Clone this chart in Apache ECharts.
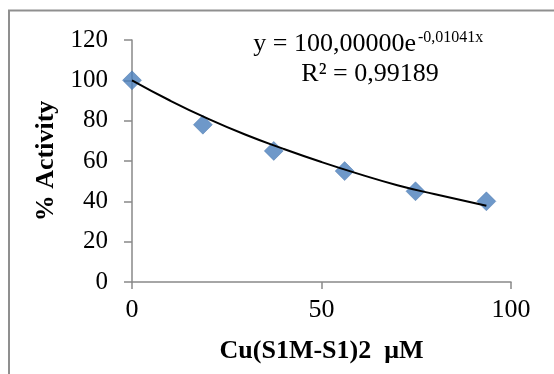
<!DOCTYPE html>
<html>
<head>
<meta charset="utf-8">
<script src="https://cdn.jsdelivr.net/npm/echarts@6/dist/echarts.min.js"></script>
<style>
  html, body { margin: 0; padding: 0; background: #fff; }
  #chart { width: 554px; height: 374px; }
</style>
</head>
<body>
<div id="chart"></div>
<script>
// measured points, Cu(S1M-S1)2 concentration (µM) vs % activity
const concentration = [0, 18.7, 37.4, 56.1, 74.8, 93.5];
const activity = [100, 78, 65, 55, 45, 40];

// exponential trend line as drawn in the picture
const trendX = [0, 10, 20, 30, 40, 50, 60, 70, 80, 93.5];
const trendY = [100, 90, 81, 73, 66, 59.5, 53.5, 48, 43.5, 37.8];

const xTicks = [0, 50, 100];
const yTicks = [0, 20, 40, 60, 80, 100, 120];

const serif = 'Liberation Serif';
const axisGray = '#898989';

const chart = echarts.init(document.getElementById('chart'), null, { renderer: 'canvas' });

chart.setOption({
    backgroundColor: '#fff',
    animation: false,
    grid: { left: 132, right: 43, top: 40, bottom: 92 },
    xAxis: {
        type: 'value',
        min: xTicks[0],
        max: xTicks[xTicks.length - 1],
        interval: xTicks[1] - xTicks[0],
        name: 'Cu(S1M-S1)2  μM',
        nameLocation: 'middle',
        nameGap: 56,
        nameTextStyle: { fontFamily: serif, fontSize: 26, fontWeight: 'bold', color: '#000' },
        axisLine: { lineStyle: { color: axisGray, width: 1.5 } },
        axisTick: { inside: false, length: 7, lineStyle: { color: axisGray, width: 1.5 } },
        axisLabel: { fontFamily: serif, fontSize: 26, color: '#000', margin: 15 },
        splitLine: { show: false }
    },
    yAxis: {
        type: 'value',
        min: yTicks[0],
        max: yTicks[yTicks.length - 1],
        interval: yTicks[1] - yTicks[0],
        name: '% Activity',
        nameLocation: 'middle',
        nameRotate: 90,
        nameGap: 62,
        nameTextStyle: { fontFamily: serif, fontSize: 26, fontWeight: 'bold', color: '#000' },
        axisLine: { show: true, lineStyle: { color: axisGray, width: 1.5 } },
        axisTick: { show: true, inside: false, length: 8, lineStyle: { color: axisGray, width: 1.5 } },
        axisLabel: { fontFamily: serif, fontSize: 25, color: '#000', margin: 24 },
        splitLine: { show: false }
    },
    series: [
        {
            type: 'scatter',
            symbol: 'diamond',
            symbolSize: 19,
            itemStyle: { color: '#4A7EBB', borderColor: '#3F6EA8', borderWidth: 0.5 },
            data: concentration.map((x, i) => [x, activity[i]]),
            z: 2
        },
        {
            type: 'line',
            smooth: true,
            showSymbol: false,
            symbol: 'none',
            lineStyle: { color: '#000', width: 2 },
            data: trendX.map((x, i) => [x, trendY[i]]),
            z: 3
        }
    ],
    graphic: [
        {
            type: 'polyline',
            shape: { points: [[9, 374], [9, 10.5], [554, 10.5]] },
            style: { stroke: '#8f8f8f', lineWidth: 2, fill: null }
        },
        {
            type: 'text',
            x: 416, y: 44,
            style: { text: 'y = 100,00000e', font: '26px "Liberation Serif"', fill: '#000', align: 'right', verticalAlign: 'middle' }
        },
        {
            type: 'text',
            x: 418, y: 38,
            style: { text: '-0,01041x', font: '16px "Liberation Serif"', fill: '#000', align: 'left', verticalAlign: 'middle' }
        },
        {
            type: 'text',
            x: 370, y: 74,
            style: { text: 'R² = 0,99189', font: '26px "Liberation Serif"', fill: '#000', align: 'center', verticalAlign: 'middle' }
        }
    ]
});
</script>
</body>
</html>
